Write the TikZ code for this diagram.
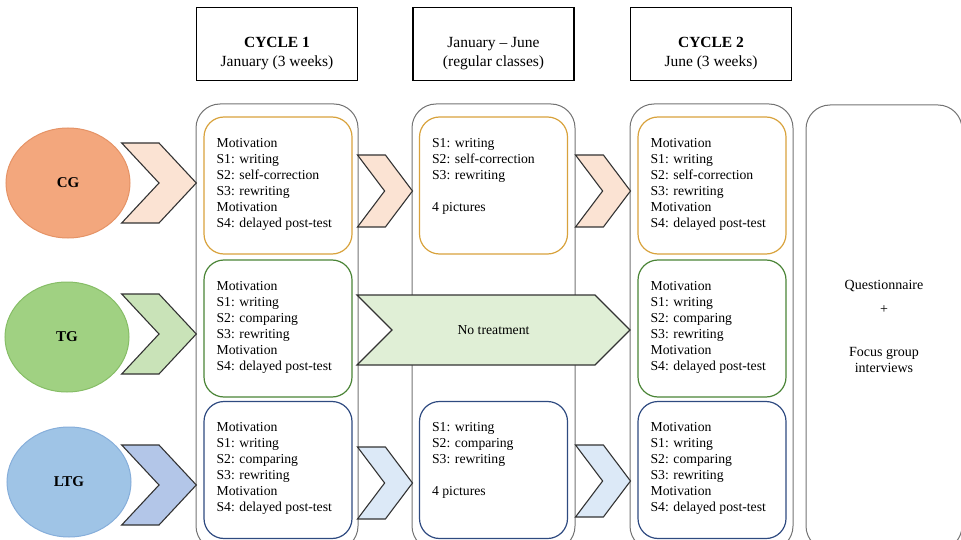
\documentclass[tikz,border=0pt]{standalone}
\usepackage{fontspec}
\setmainfont{Liberation Serif}
\usetikzlibrary{shapes.geometric,shapes.symbols}

\definecolor{cgfill}{HTML}{F3A77D}
\definecolor{cgline}{HTML}{E59366}
\definecolor{cgbox}{HTML}{D8A23C}
\definecolor{cgchev}{HTML}{FBE3D3}
\definecolor{tgfill}{HTML}{A0D182}
\definecolor{tgline}{HTML}{86BD66}
\definecolor{tgbox}{HTML}{4A8436}
\definecolor{tgchev}{HTML}{C9E3B8}
\definecolor{tgnone}{HTML}{E0EFD6}
\definecolor{ltgfill}{HTML}{9FC4E6}
\definecolor{ltgline}{HTML}{86AEDA}
\definecolor{ltgbox}{HTML}{2E4A80}
\definecolor{ltgchev}{HTML}{B3C6E8}
\definecolor{ltgchevb}{HTML}{DCE9F7}

\begin{document}
\begin{tikzpicture}[x=1pt,y=-1pt,
  frame/.style={draw=black!55, line width=1pt, rounded corners=24pt},
  headbox/.style={draw=black, line width=1.1pt, minimum width=161pt, minimum height=73pt, inner sep=0pt},
  headtext/.style={align=center, inner sep=0pt, yshift=-10pt, font=\fontsize{15.5}{19}\selectfont},
  stepbox/.style={draw=#1, line width=1.2pt, rounded corners=20pt, minimum width=148pt, minimum height=137pt, inner sep=0pt},
  steptext/.style={anchor=north west, align=left, inner sep=0pt, xshift=13pt, yshift=-21.5pt, font=\fontsize{13.7}{16}\selectfont},
  group/.style={ellipse, draw=#1line, fill=#1fill, line width=1pt, minimum width=124pt, minimum height=110pt, inner sep=0pt, font=\fontsize{15}{17}\selectfont\bfseries},
  chev/.style={signal, signal from=west, signal to=east, draw=black!80, line width=1.1pt, fill=#1, inner sep=0pt},
  bigchev/.style={chev=#1, minimum width=72pt, minimum height=80pt, signal pointer angle=94},
  smallchev/.style={chev=#1, minimum width=55pt, minimum height=72pt, signal pointer angle=106},
]
\useasboundingbox (0,0) rectangle (961,540);
\clip (0,0) rectangle (961,540);

% columns
\draw[frame] (196,104) rectangle (358,550);
\draw[frame] (412,104) rectangle (575,550);
\draw[frame] (630,104) rectangle (793,550);
\draw[frame] (806,105) rectangle (962,550);

% cycle 1
\node[stepbox=cgbox] (c1cg) at (278,185.5) {};
\node[stepbox=tgbox] (c1tg) at (278,328.5) {};
\node[stepbox=ltgbox] (c1ltg) at (278,470) {};
\node[steptext] (c1cgt) at (c1cg.north west) {Motivation\\S1: writing\\S2: self-correction\\S3: rewriting\\Motivation\\S4: delayed post-test};
\node[steptext] (c1tgt) at (c1tg.north west) {Motivation\\S1: writing\\S2: comparing\\S3: rewriting\\Motivation\\S4: delayed post-test};
\node[steptext] (c1ltgt) at (c1ltg.north west) {Motivation\\S1: writing\\S2: comparing\\S3: rewriting\\Motivation\\S4: delayed post-test};

% regular classes
\node[stepbox=cgbox] (c2cg) at (493.5,185.5) {};
\node[stepbox=ltgbox] (c2ltg) at (493.5,470) {};
\node[steptext] (c2cgt) at (c2cg.north west) {S1: writing\\S2: self-correction\\S3: rewriting\\[16pt]4 pictures};
\node[steptext] (c2ltgt) at (c2ltg.north west) {S1: writing\\S2: comparing\\S3: rewriting\\[16pt]4 pictures};

% cycle 2
\node[stepbox=cgbox] (c3cg) at (712,185.5) {};
\node[stepbox=tgbox] (c3tg) at (712,328.5) {};
\node[stepbox=ltgbox] (c3ltg) at (712,470) {};
\node[steptext] (c3cgt) at (c3cg.north west) {Motivation\\S1: writing\\S2: self-correction\\S3: rewriting\\Motivation\\S4: delayed post-test};
\node[steptext] (c3tgt) at (c3tg.north west) {Motivation\\S1: writing\\S2: comparing\\S3: rewriting\\Motivation\\S4: delayed post-test};
\node[steptext] (c3ltgt) at (c3ltg.north west) {Motivation\\S1: writing\\S2: comparing\\S3: rewriting\\Motivation\\S4: delayed post-test};

% groups
\node[group=cg] (cg) at (68,183) {CG};
\node[group=tg] (tg) at (67,337) {TG};
\node[group=ltg] (ltg) at (69,482) {LTG};

% chevrons
\node[bigchev=cgchev] (cga) at (159,183) {};
\node[bigchev=tgchev] (tga) at (159,334) {};
\node[bigchev=ltgchev] (ltga) at (159,485) {};
\node[smallchev=cgchev] (cgb) at (385,191) {};
\node[smallchev=cgchev] (cgc) at (603,191) {};
\node[smallchev=ltgchevb] (ltgb) at (385,483) {};
\node[smallchev=ltgchevb] (ltgc) at (603,481) {};
\node[chev=tgnone, minimum width=273pt, minimum height=70pt, signal pointer angle=90, font=\fontsize{13.7}{16}\selectfont] (tgb) at (493.5,330) {No treatment};

% headers
\node[headbox] (h1) at (277,44) {};
\node[headbox] (h2) at (493.5,44) {};
\node[headbox] (h3) at (711,44) {};
\node[headtext] (h1t) at (h1.center) {\textbf{CYCLE 1}\\January (3 weeks)};
\node[headtext] (h2t) at (h2.center) {January -- June\\(regular classes)};
\node[headtext] (h3t) at (h3.center) {\textbf{CYCLE 2}\\June (3 weeks)};

% follow-up
\node[align=center, inner sep=0pt, font=\fontsize{14}{16}\selectfont] (fu) at (884,326.5) {Questionnaire\\[7.5pt]+\\[27.5pt]Focus group\\interviews};
\end{tikzpicture}
\end{document}
